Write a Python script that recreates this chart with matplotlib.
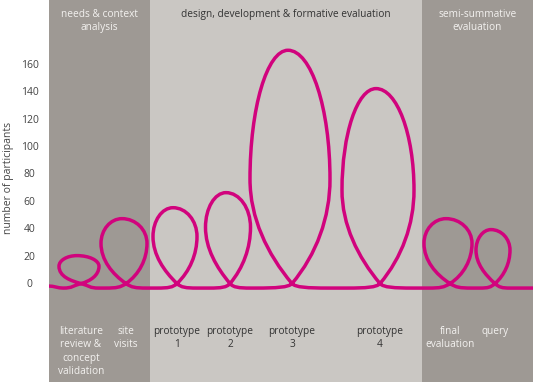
import numpy as np
import matplotlib
matplotlib.use("Agg")
import matplotlib.pyplot as plt
from matplotlib.path import Path
from matplotlib.patches import PathPatch

# ---------------- data ----------------
phases = ["needs & context\nanalysis",
          "design, development & formative evaluation",
          "semi-summative\nevaluation"]
activities = ["literature\nreview &\nconcept\nvalidation", "site\nvisits",
              "prototype\n1", "prototype\n2", "prototype\n3", "prototype\n4",
              "final\nevaluation", "query"]
participants = [20, 47, 55, 66, 170, 142, 47, 39]
activity_phase = [0, 0, 1, 1, 1, 1, 2, 2]
yticks = [0, 20, 40, 60, 80, 100, 120, 140, 160]

# ---------------- layout ----------------
phase_edges = [0, 101, 373, 484]
loop_x = [32, 77, 128, 181, 243, 331, 401, 446]
loop_halfwidth = [20, 23, 22, 22.5, 40, 36, 24, 17]

W, H = 537, 382
DARK = "#9e9994"
LIGHT = "#cac7c3"
MAGENTA = "#d1037d"
FONT = "Open Sans"

fig = plt.figure(figsize=(W / 100, H / 100), dpi=100)
ax = fig.add_axes([49 / W, 0, 484 / W, 1])
ax.set_xlim(0, 484)
PX = 1.369  # pixels per participant unit
ax.set_ylim(-99 / PX, (H - 99) / PX)

for i in range(3):
    ax.axvspan(phase_edges[i], phase_edges[i + 1], color=[DARK, LIGHT, DARK][i],
               lw=0, zorder=0)
    ax.text((phase_edges[i] + phase_edges[i + 1]) / 2, 1 - 9 / H, phases[i],
            transform=ax.get_xaxis_transform(), ha="center", va="top",
            fontsize=7.3, family=FONT, linespacing=1.3,
            color="#f3f1ef" if i != 1 else "#333333")

for lx, lab, ph in zip(loop_x, activities, activity_phase):
    ax.text(lx, 1 - 326 / H, lab, transform=ax.get_xaxis_transform(),
            ha="center", va="top", fontsize=7.3, family=FONT, linespacing=1.3,
            color="#f3f1ef" if ph != 1 else "#333333")

# ---------------- looping curve ----------------
base = -3.7
cross_px = 4.5
cross = base + cross_px / PX
kappa = 0.5523
lean = 4.0
beta_target = np.deg2rad(50)
beta_min = np.deg2rad(15)
cap = 0.62

verts = [(0, base + 2 / PX)]
codes = [Path.MOVETO]


def bez(p1, p2, p3):
    verts.extend([p1, p2, p3])
    codes.extend([Path.CURVE4] * 3)


def connect(p):
    x0, y0 = verts[-1]
    dx = (p[0] - x0) / 3
    bez((x0 + dx, y0), (p[0] - dx, p[1]), p)


for cx, hw, v in zip(loop_x, loop_halfwidth, participants):
    body_px = (v - cross) * PX
    side_dx = hw - lean / 2
    gap_px = min(side_dx * np.tan(np.pi / 4 + beta_target / 2), cap * body_px)
    beta = max(2 * np.arctan2(gap_px, side_dx) - np.pi / 2, beta_min)
    ux, uy = np.cos(beta), np.sin(beta)
    theta = np.pi / 2 - beta
    chord = np.hypot(side_dx, gap_px)
    r = chord / (2 * np.sin(theta / 2))
    h = 4 / 3 * np.tan(theta / 4) * r          # pixels

    s = 0.9 * hw
    A = (cx - s, base)
    B = (cx + s, base)
    C = (cx, cross)
    ym = cross + gap_px / PX
    R = (cx + side_dx, ym)
    T = (cx - lean, v)
    L = (cx - hw - lean / 2, ym)
    dA = min(0.5 * s, 0.85 * cross_px / uy)
    connect(A)
    bez((A[0] + kappa * (C[0] - A[0]), A[1]),
        (C[0] - dA * ux, C[1] - dA * uy / PX), C)
    bez((C[0] + h * ux, C[1] + h * uy / PX), (R[0], R[1] - h / PX), R)
    bez((R[0], R[1] + kappa * (T[1] - R[1])), (T[0] + kappa * (R[0] - T[0]), T[1]), T)
    bez((T[0] - kappa * (T[0] - L[0]), T[1]), (L[0], L[1] + kappa * (T[1] - L[1])), L)
    hl = h * np.hypot(hw + lean / 2, gap_px) / chord
    bez((L[0], L[1] - hl / PX), (C[0] - hl * ux, C[1] + hl * uy / PX), C)
    bez((C[0] + dA * ux, C[1] - dA * uy / PX),
        (B[0] - kappa * (B[0] - C[0]), B[1]), B)
connect((484, base))

ax.add_patch(PathPatch(Path(verts, codes), fill=False, edgecolor=MAGENTA,
                       lw=2.5, capstyle="round", joinstyle="round", zorder=3))

# ---------------- axes ----------------
for sp in ax.spines.values():
    sp.set_visible(False)
ax.set_xticks([])
ax.set_yticks(yticks)
ax.set_yticklabels([str(t) for t in yticks], family=FONT, fontsize=7.5,
                   color="#444444")
for lab in ax.get_yticklabels():
    lab.set_horizontalalignment("center")
ax.tick_params(axis="y", length=0, pad=14)
fig.text(9 / W, 1 - 178 / H, "number of participants", rotation=90,
         ha="center", va="center", fontsize=7.5, family=FONT, color="#444444")

fig.savefig("out.png", dpi=100)
